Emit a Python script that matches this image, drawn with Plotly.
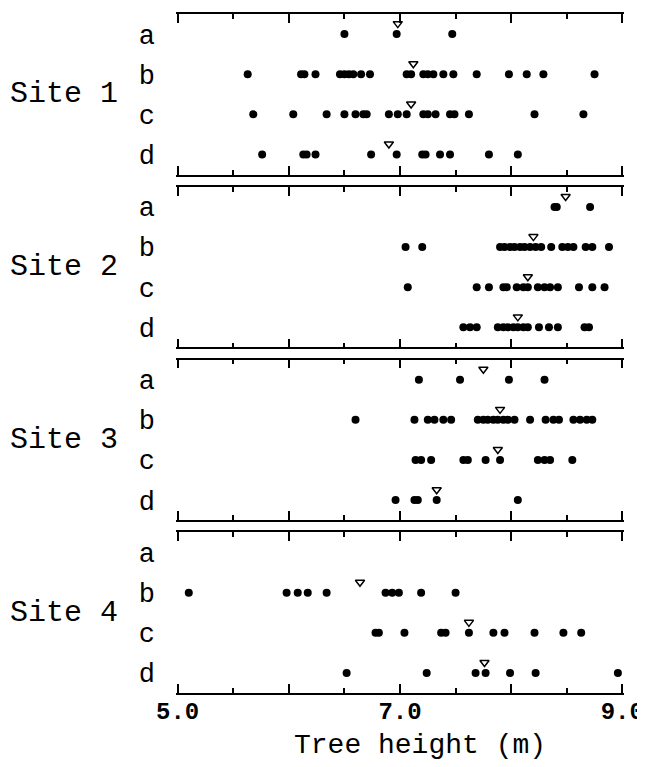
import plotly.graph_objects as go
from plotly.subplots import make_subplots

groups = ["a", "b", "c", "d"]
sites = ["Site 1", "Site 2", "Site 3", "Site 4"]

# Site 1
s1a = [6.50, 6.97, 7.47]
s1b = [5.63, 6.11, 6.14, 6.24, 6.46, 6.50, 6.54, 6.58, 6.65, 6.73, 7.06, 7.10,
       7.21, 7.25, 7.30, 7.39, 7.48, 7.69, 7.98, 8.14, 8.29, 8.75]
s1c = [5.68, 6.04, 6.34, 6.50, 6.60, 6.67, 6.70, 6.90, 6.98, 7.06, 7.21, 7.25,
       7.32, 7.45, 7.49, 7.62, 8.21, 8.65]
s1d = [5.76, 6.13, 6.16, 6.24, 6.74, 6.97, 7.20, 7.23, 7.36, 7.45, 7.80, 8.06]
mean_s1 = [6.98, 7.12, 7.10, 6.90]

# Site 2
s2a = [8.39, 8.41, 8.71]
s2b = [7.05, 7.20, 7.90, 7.94, 7.99, 8.03, 8.08, 8.12, 8.17, 8.22, 8.27, 8.36,
       8.46, 8.51, 8.56, 8.67, 8.73, 8.88]
s2c = [7.07, 7.69, 7.80, 7.93, 7.96, 8.05, 8.11, 8.15, 8.24, 8.30, 8.35, 8.42,
       8.61, 8.73, 8.84]
s2d = [7.57, 7.63, 7.69, 7.88, 7.93, 7.97, 8.02, 8.06, 8.11, 8.15, 8.25, 8.34,
       8.42, 8.66, 8.70]
mean_s2 = [8.49, 8.20, 8.15, 8.06]

# Site 3
s3a = [7.17, 7.54, 7.98, 8.30]
s3b = [6.60, 7.13, 7.25, 7.31, 7.39, 7.46, 7.70, 7.75, 7.79, 7.84, 7.88, 7.93,
       7.97, 8.03, 8.17, 8.31, 8.38, 8.43, 8.56, 8.62, 8.68, 8.73]
s3c = [7.14, 7.19, 7.28, 7.57, 7.61, 7.77, 7.90, 8.24, 8.30, 8.35, 8.55]
s3d = [6.96, 7.13, 7.16, 7.33, 8.06]
mean_s3 = [7.75, 7.90, 7.88, 7.33]

# Site 4
s4a = []
s4b = [5.10, 5.98, 6.08, 6.17, 6.34, 6.87, 6.93, 6.99, 7.19, 7.50]
s4c = [6.78, 6.81, 7.04, 7.37, 7.41, 7.62, 7.84, 7.94, 8.21, 8.47, 8.63]
s4d = [6.52, 7.24, 7.68, 7.77, 7.99, 8.22, 8.96]
mean_s4 = [None, 6.64, 7.62, 7.76]

site_data = [
    [s1a, s1b, s1c, s1d],
    [s2a, s2b, s2c, s2d],
    [s3a, s3b, s3c, s3d],
    [s4a, s4b, s4c, s4d],
]
site_means = [mean_s1, mean_s2, mean_s3, mean_s4]

x_tickvals = [5, 6, 7, 8, 9]
x_ticktext = ["<b>5.0</b>", "", "<b>7.0</b>", "", "<b>9.0</b>"]

FONT = "Liberation Mono, Courier New, monospace"

fig = make_subplots(rows=4, cols=1, shared_xaxes=True, vertical_spacing=0.018)

for i, (data, means) in enumerate(zip(site_data, site_means)):
    row = i + 1
    for j, vals in enumerate(data):
        if vals:
            fig.add_trace(go.Scatter(
                x=vals, y=[j] * len(vals), mode="markers",
                marker=dict(symbol="circle", size=8, color="black"),
                showlegend=False, hoverinfo="x"), row=row, col=1)
    mx = [m for m in means if m is not None]
    my = [j - 0.26 for j, m in enumerate(means) if m is not None]
    fig.add_trace(go.Scatter(
        x=mx, y=my, mode="markers",
        marker=dict(symbol="triangle-down-open", size=8, color="black",
                    line=dict(width=1.5, color="black")),
        showlegend=False, hoverinfo="x"), row=row, col=1)

    fig.update_yaxes(
        range=[3.5, -0.5], tickvals=[0, 1, 2, 3], ticktext=groups,
        showline=False, showgrid=False, zeroline=False, ticks="",
        ticklabelstandoff=20, automargin=False,
        tickfont=dict(family=FONT, size=27, color="black"),
        row=row, col=1)

    fig.add_annotation(
        text=sites[i], xref="paper", yref=f"y{'' if row == 1 else row} domain",
        x=-0.375, y=0.5, xanchor="left", yanchor="middle", showarrow=False,
        font=dict(family=FONT, size=30, color="black"))

fig.update_xaxes(
    range=[4.985, 9.015], tickvals=x_tickvals, ticktext=x_ticktext,
    showline=True, linecolor="black", linewidth=1.6, mirror="ticks",
    ticks="inside", ticklen=9, tickwidth=1.6, tickcolor="black",
    showgrid=False, zeroline=False, automargin=False,
    minor=dict(tickvals=[5.5, 6.5, 7.5, 8.5], ticks="inside", ticklen=5,
               tickwidth=1.5, tickcolor="black", showgrid=False),
    tickfont=dict(family=FONT, size=24, color="black"),
)
fig.update_xaxes(showticklabels=True, ticklabelstandoff=-5, row=4, col=1)

fig.add_annotation(
    text="Tree height (m)", xref="paper", yref="paper", x=0.545, y=-0.078,
    xanchor="center", yanchor="middle", showarrow=False,
    font=dict(family=FONT, size=28, color="black"))

# the page body adds an 8 px offset, so the figure is sized to compensate
fig.update_layout(
    width=637, height=759,
    margin=dict(l=168, r=21, t=6, b=74),
    plot_bgcolor="white", paper_bgcolor="white",
)

fig.write_html("out.html")
